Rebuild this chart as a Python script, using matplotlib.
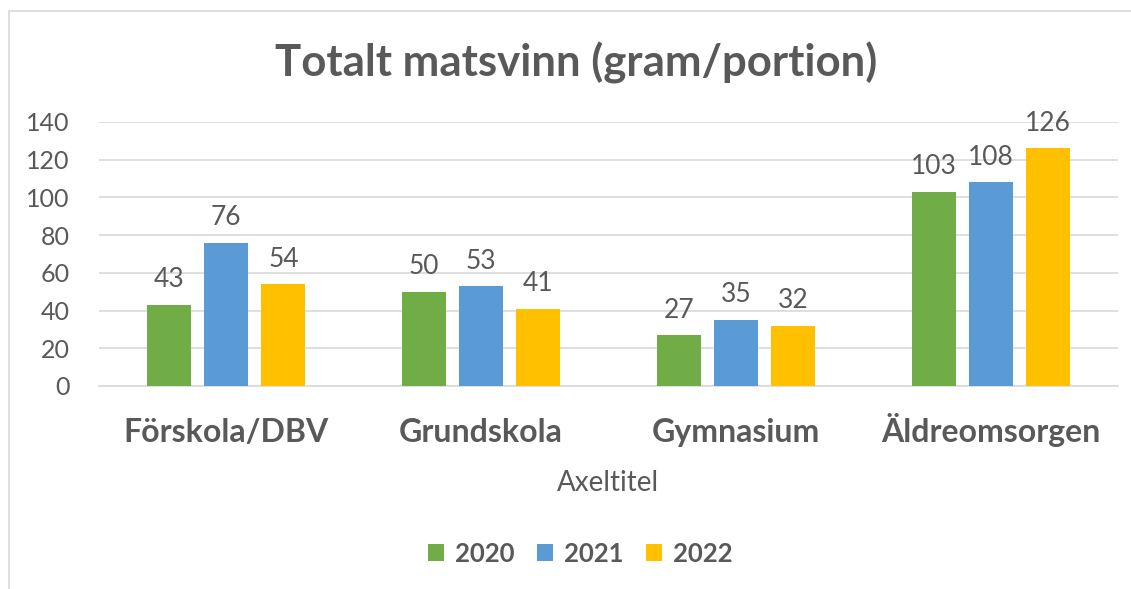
import numpy as np
import matplotlib.pyplot as plt
from matplotlib.patches import Rectangle

plt.rcParams['font.family'] = ['Lato', 'DejaVu Sans']

# Matsvinn per kategori och år
categories = ['Förskola/DBV', 'Grundskola', 'Gymnasium', 'Äldreomsorgen']
years = ['2020', '2021', '2022']
values_2020 = [43, 50, 27, 103]
values_2021 = [76, 53, 35, 108]
values_2022 = [54, 41, 32, 126]
series = [values_2020, values_2021, values_2022]
colors = ['#70AD47', '#5B9BD5', '#FFC000']
text_color = '#595959'

fig = plt.figure(figsize=(11.31, 5.89), dpi=100)
ax = fig.add_axes([0.0875, 0.3447, 0.901, 0.4482])

# ram runt diagrammet
fig.patches.append(Rectangle((9 / 1131, -0.1), 1.2, 1.1 - 11 / 589,
                             transform=fig.transFigure, fill=False,
                             edgecolor='#D9D9D9', linewidth=1.2))

x = np.arange(len(categories))
width = 0.173
offsets = [-0.224, 0.0, 0.224]
for vals, off, col, yr in zip(series, offsets, colors, years):
    bars = ax.bar(x + off, vals, width, color=col, label=yr, zorder=3)
    ax.bar_label(bars, padding=9, fontsize=19, color=text_color)

ax.set_xlim(-0.5, len(categories) - 0.5)
ax.set_ylim(0, 140)
ax.set_yticks(range(0, 141, 20))
ax.grid(axis='y', color='#D9D9D9', linewidth=1.2, zorder=0)
for s in ['top', 'right', 'left']:
    ax.spines[s].set_visible(False)
ax.spines['bottom'].set_color('#D9D9D9')
ax.spines['bottom'].set_linewidth(1.2)
ax.tick_params(axis='both', length=0)
ax.tick_params(axis='y', labelsize=18, labelcolor=text_color, pad=21)
ax.set_xticks(x)
ax.set_xticklabels(categories, fontsize=23, fontweight='bold', color=text_color,
                   va='baseline')
ax.tick_params(axis='x', pad=40)
ax.set_xlabel('Axeltitel', fontsize=20, color=text_color, va='center')
ax.xaxis.set_label_coords(0.5, -0.367)

fig.text(0.509, 0.893, 'Totalt matsvinn (gram/portion)', ha='center', va='center',
         fontsize=31.5, fontweight='bold', color=text_color)

fig.legend(loc='center', bbox_to_anchor=(0.513, 0.06), ncol=3, frameon=False,
           prop={'size': 18.5, 'weight': 'bold'}, labelcolor=text_color,
           handlelength=0.6, handleheight=0.6, handletextpad=0.43,
           columnspacing=0.9)

fig.savefig('out.png', dpi=100)
